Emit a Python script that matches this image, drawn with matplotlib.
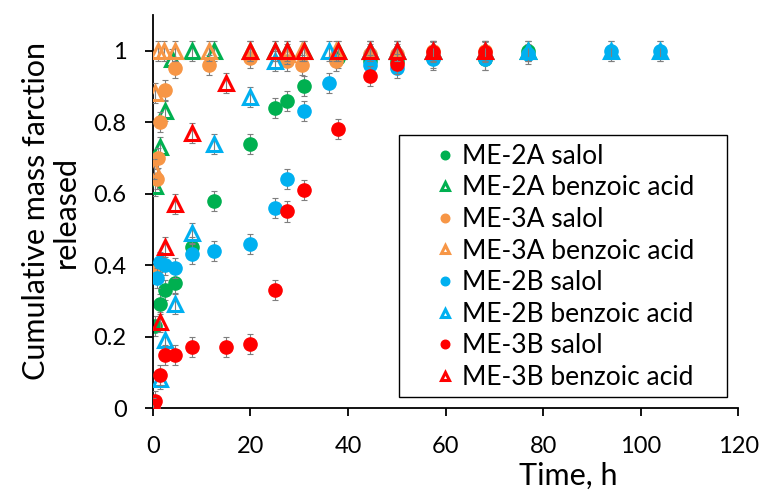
import matplotlib.pyplot as plt
from matplotlib.patches import Rectangle
import numpy as np

# time (h) and cumulative mass fraction released
t_2a_salol = [0, 0.5, 1.5, 2.5, 4.5, 8, 12.5, 20, 25, 27.5, 31, 38, 44.5, 50, 57.5, 68, 77]
y_2a_salol = [0, 0.23, 0.29, 0.33, 0.35, 0.45, 0.58, 0.74, 0.84, 0.86, 0.90, 0.98, 0.97, 0.97, 0.98, 0.975, 1.0]

t_2a_benz = [0, 0.5, 1.5, 2.5, 4, 8, 12.5, 20, 25, 27.5, 31, 38, 44.5, 50, 57.5, 68, 77]
y_2a_benz = [0, 0.62, 0.73, 0.83, 0.975, 1.0, 1.0, 1.0, 1.0, 1.0, 1.0, 1.0, 1.0, 1.0, 1.0, 1.0, 1.0]

t_3a_salol = [0, 0.25, 0.75, 1, 1.5, 2.5, 4.5, 11.5, 20, 27.5, 30.5, 37.5, 44.5, 50, 57.5, 68]
y_3a_salol = [0, 0.38, 0.64, 0.70, 0.80, 0.89, 0.95, 0.96, 0.98, 0.97, 0.96, 0.97, 0.99, 0.99, 1.0, 1.0]

t_3a_benz = [0, 0.25, 0.5, 1, 2.25, 4.5, 11.5, 20, 27.5, 30.5, 37.5, 44.5, 50, 57.5, 68]
y_3a_benz = [0, 0.67, 0.88, 1.0, 1.0, 1.0, 1.0, 1.0, 0.99, 1.0, 1.0, 1.0, 1.0, 1.0, 1.0]

t_2b_salol = [0, 0.75, 1.5, 2.5, 4.5, 8, 12.5, 20, 25, 27.5, 31, 36, 44.5, 50, 57.5, 68, 77, 94, 104]
y_2b_salol = [0, 0.365, 0.41, 0.40, 0.393, 0.43, 0.44, 0.46, 0.56, 0.64, 0.83, 0.91, 0.96, 0.95, 0.975, 0.975, 0.99, 1.0, 1.0]

t_2b_benz = [0, 1.5, 2.5, 4.5, 8, 12.5, 20, 25, 36, 44.5, 50, 57.5, 68, 77, 94, 104]
y_2b_benz = [0, 0.083, 0.19, 0.29, 0.49, 0.74, 0.87, 0.97, 1.0, 1.0, 1.0, 1.0, 1.0, 1.0, 1.0, 1.0]

t_3b_salol = [0, 0.5, 1.5, 2.5, 4.5, 8, 15, 20, 25, 27.5, 31, 38, 44.5, 50, 57.5, 68]
y_3b_salol = [0, 0.02, 0.093, 0.15, 0.15, 0.17, 0.17, 0.18, 0.33, 0.55, 0.61, 0.78, 0.93, 0.963, 0.997, 0.997]

t_3b_benz = [0, 1.5, 2.5, 4.5, 8, 15, 20, 25, 27.5, 31, 38, 44.5, 50, 57.5, 68]
y_3b_benz = [0, 0.24, 0.45, 0.57, 0.77, 0.91, 1.0, 1.0, 1.0, 1.0, 1.0, 1.0, 1.0, 1.0, 1.0]

green = '#00B050'
orange = '#F79646'
blue = '#00B0F0'
red = '#FF0000'

plt.rcParams['font.family'] = ['Lato', 'DejaVu Sans']

fig = plt.figure(figsize=(7.61, 4.93), dpi=100)
ax = fig.add_axes([0.201, 0.172, 0.769, 0.798])

series = [
    (t_2a_salol, y_2a_salol, green, 'o', 'ME-2A salol'),
    (t_2a_benz, y_2a_benz, green, '^', 'ME-2A benzoic acid'),
    (t_3a_salol, y_3a_salol, orange, 'o', 'ME-3A salol'),
    (t_3a_benz, y_3a_benz, orange, '^', 'ME-3A benzoic acid'),
    (t_2b_salol, y_2b_salol, blue, 'o', 'ME-2B salol'),
    (t_2b_benz, y_2b_benz, blue, '^', 'ME-2B benzoic acid'),
    (t_3b_salol, y_3b_salol, red, 'o', 'ME-3B salol'),
    (t_3b_benz, y_3b_benz, red, '^', 'ME-3B benzoic acid'),
]

err = 0.028
for i, (t, y, c, m, lab) in enumerate(series):
    ax.errorbar(t, y, yerr=err, fmt='none', ecolor='#7F7F7F', elinewidth=0.8,
                capsize=2.2, capthick=0.8, zorder=2 + i)
    if m == 'o':
        ax.plot(t, y, 'o', color=c, ms=9.5, mec=c, label=lab, zorder=2 + i)
    else:
        ax.plot(t, y, '^', color=c, ms=9.5, mfc='none', mec=c, mew=2.2,
                label=lab, zorder=2 + i)

ax.set_xlim(0, 120)
ax.set_ylim(0, 1.1)
ax.set_xticks(np.arange(0, 121, 20))
ax.set_yticks([0, 0.2, 0.4, 0.6, 0.8, 1.0])
ax.set_yticklabels(['0', '0.2', '0.4', '0.6', '0.8', '1'])
ax.spines['top'].set_visible(False)
ax.spines['right'].set_visible(False)
ax.spines['left'].set_linewidth(1.3)
ax.spines['bottom'].set_linewidth(1.3)
ax.tick_params(direction='out', length=6, width=1.3, labelsize=17)
ax.tick_params(axis='x', pad=14)
ax.tick_params(axis='y', pad=13)
ax.set_xlabel('Time, h', fontsize=22)
ax.xaxis.set_label_coords(0.71, -0.137)
ax.set_ylabel('Cumulative mass farction\nreleased', fontsize=22, labelpad=10,
              linespacing=1.05)

# legend box drawn separately so the padding can match the original
box = Rectangle((0.42, 0.028), 0.561, 0.667, transform=ax.transAxes,
                facecolor='white', edgecolor='black', lw=1.0, zorder=20)
ax.add_patch(box)
leg = ax.legend(loc='upper left', bbox_to_anchor=(0.477, 0.672), fontsize=19,
                markerscale=0.65, frameon=False, handletextpad=0.15,
                handlelength=1.0, borderpad=0, labelspacing=0.25, borderaxespad=0)
leg.set_zorder(21)

fig.savefig('out.png', dpi=100)
